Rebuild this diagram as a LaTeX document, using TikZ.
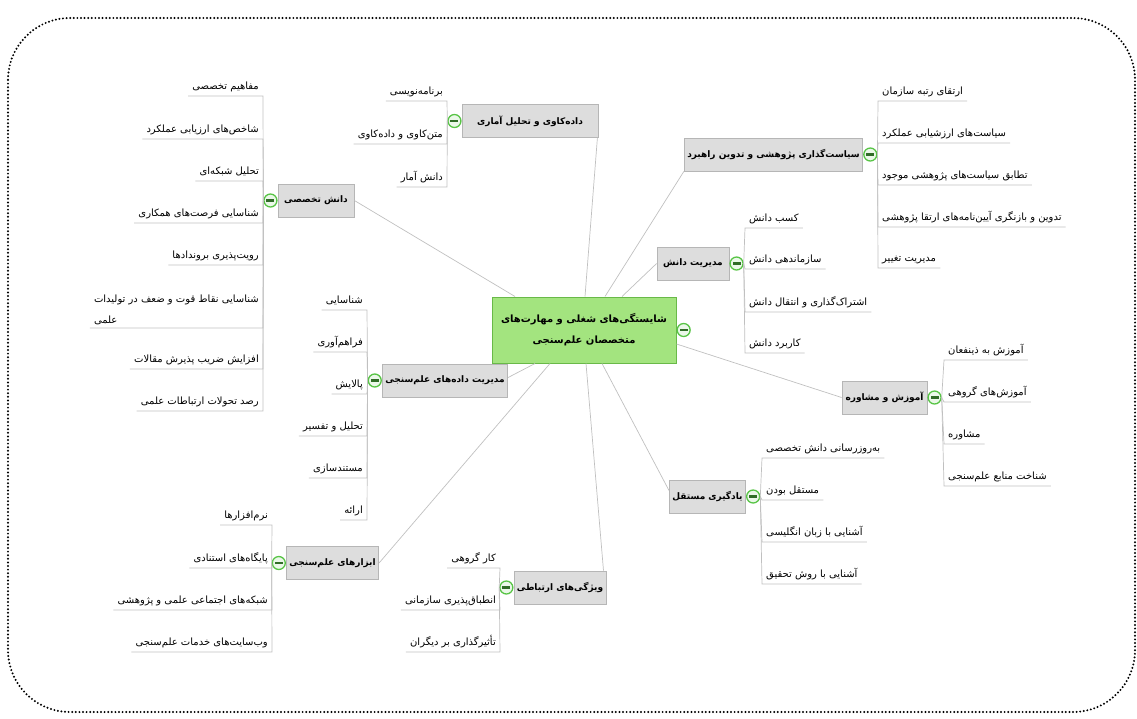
\documentclass[tikz,border=0pt]{standalone}
\usepackage{fontspec}
\usetikzlibrary{positioning}
\TeXXeTstate=1
\newfontfamily\farsifont[Script=Arabic]{DejaVu Sans}
\newcommand{\fatext}[1]{{\farsifont\beginR #1\endR}}
\definecolor{centerfill}{RGB}{163,228,127}
\definecolor{centeredge}{RGB}{105,185,72}
\definecolor{topicfill}{RGB}{221,221,221}
\definecolor{topicedge}{RGB}{182,182,182}
\definecolor{linkgray}{RGB}{192,192,192}
\definecolor{ctrlgreen}{RGB}{88,196,70}

\begin{document}
\begin{tikzpicture}[x=1pt, y=-1pt,
    central/.style={rectangle, draw=centeredge, fill=centerfill, line width=1pt, minimum width=184pt, minimum height=66pt, align=center, font=\fontsize{10}{12}\selectfont\bfseries},
    topic/.style={rectangle, draw=topicedge, fill=topicfill, line width=0.8pt, minimum height=33pt, inner xsep=3pt, font=\fontsize{9}{11}\selectfont\bfseries},
    leaf/.style={inner xsep=4pt, inner ysep=3pt, text height=8.5pt, text depth=3pt, font=\fontsize{10}{12}\selectfont},
    leafL/.style={leaf, anchor=south east},
    leafR/.style={leaf, anchor=south west},
    link/.style={draw=linkgray, line width=0.7pt},
    ctrl/.style={circle, draw=ctrlgreen, fill=ctrlgreen!12, line width=1.3pt, minimum size=13pt, inner sep=0pt,
        path picture={\fill[ctrlgreen!55!black] ([xshift=-4pt,yshift=-1.1pt]path picture bounding box.center) rectangle ([xshift=4pt,yshift=1.1pt]path picture bounding box.center);}}
]
\useasboundingbox (0,0) rectangle (1137,718);

% Frame
\draw[line width=2.2pt, line cap=round, dash pattern=on 0pt off 3.6pt, rounded corners=62pt] (8,18) rectangle (1135,712);

% Central topic
\node[central] (core) at (584,330) {\fatext{شایستگی‌های شغلی و مهارت‌های}\\[9pt]\fatext{متخصصان علم‌سنجی}};
\node[ctrl, right=0pt of core] (ccore) {};

% Main topics
\node[topic, minimum width=136pt] (mining) at (530,121) {\fatext{داده‌کاوی و تحلیل آماری}};
\node[ctrl, left=0pt of mining] (cmining) {};
\node[topic, minimum width=177pt] (policy) at (773.5,154.5) {\fatext{سیاست‌گذاری پژوهشی و تدوین راهبرد}};
\node[ctrl, right=0pt of policy] (cpolicy) {};
\node[topic, minimum width=72pt] (km) at (693,263.5) {\fatext{مدیریت دانش}};
\node[ctrl, right=0pt of km] (ckm) {};
\node[topic, minimum width=85pt] (train) at (884.5,397.5) {\fatext{آموزش و مشاوره}};
\node[ctrl, right=0pt of train] (ctrain) {};
\node[topic, minimum width=75pt] (selflearn) at (707.5,496.5) {\fatext{یادگیری مستقل}};
\node[ctrl, right=0pt of selflearn] (cself) {};
\node[topic, minimum width=92pt] (comm) at (560,587.5) {\fatext{ویژگی‌های ارتباطی}};
\node[ctrl, left=0pt of comm] (ccomm) {};
\node[topic, minimum width=91pt] (tools) at (332.5,563) {\fatext{ابزارهای علم‌سنجی}};
\node[ctrl, left=0pt of tools] (ctools) {};
\node[topic, minimum width=124pt] (data) at (445,380.5) {\fatext{مدیریت داده‌های علم‌سنجی}};
\node[ctrl, left=0pt of data] (cdata) {};
\node[topic, minimum width=76pt] (expert) at (316,200.5) {\fatext{دانش تخصصی}};
\node[ctrl, left=0pt of expert] (cexpert) {};

% Central links
\draw[link] ([xshift=-69pt]core.north) -- (expert.east);
\draw[link] ([xshift=1pt]core.north) -- ([xshift=-1pt]mining.south east);
\draw[link] ([xshift=21pt]core.north) -- (policy.south west);
\draw[link] ([xshift=38pt]core.north) -- (km.west);
\draw[link] ([yshift=-14pt]core.east) -- (train.west);
\draw[link] ([xshift=18pt]core.south) -- ([yshift=6pt]selflearn.west);
\draw[link] ([xshift=2pt]core.south) -- ([xshift=-3pt]comm.north east);
\draw[link] ([xshift=-34pt]core.south) -- (tools.east);
\draw[link] ([xshift=-49pt]core.south) -- ([yshift=3pt]data.east);

% Expert knowledge
\node[leafL] (e1) at (263,96) {\fatext{مفاهیم تخصصی}};
\node[leafL] (e2) at (263,139) {\fatext{شاخص‌های ارزیابی عملکرد}};
\node[leafL] (e3) at (263,181) {\fatext{تحلیل شبکه‌ای}};
\node[leafL] (e4) at (263,223) {\fatext{شناسایی فرصت‌های همکاری}};
\node[leafL] (e5) at (263,265) {\fatext{رویت‌پذیری بروندادها}};
\node[inner xsep=4pt, inner ysep=3pt, anchor=south east, align=left, font=\fontsize{10}{12}\selectfont] (e6) at (263,328) {\fatext{شناسایی نقاط قوت و ضعف در تولیدات}\\[9pt]\fatext{علمی}};
\node[leafL] (e7) at (263,369) {\fatext{افزایش ضریب پذیرش مقالات}};
\node[leafL] (e8) at (263,411) {\fatext{رصد تحولات ارتباطات علمی}};
\draw[link] (cexpert.west) -- (e1.south east) -- (e1.south west);
\draw[link] (cexpert.west) -- (e2.south east) -- (e2.south west);
\draw[link] (cexpert.west) -- (e3.south east) -- (e3.south west);
\draw[link] (cexpert.west) -- (e4.south east) -- (e4.south west);
\draw[link] (cexpert.west) -- (e5.south east) -- (e5.south west);
\draw[link] (cexpert.west) -- (e6.south east) -- (e6.south west);
\draw[link] (cexpert.west) -- (e7.south east) -- (e7.south west);
\draw[link] (cexpert.west) -- (e8.south east) -- (e8.south west);

% Data mining
\node[leafL] (m1) at (447,101) {\fatext{برنامه‌نویسی}};
\node[leafL] (m2) at (447,144) {\fatext{متن‌کاوی و داده‌کاوی}};
\node[leafL] (m3) at (447,187) {\fatext{دانش آمار}};
\draw[link] (cmining.west) -- (m1.south east) -- (m1.south west);
\draw[link] (cmining.west) -- (m2.south east) -- (m2.south west);
\draw[link] (cmining.west) -- (m3.south east) -- (m3.south west);

% Data management
\node[leafL] (d1) at (367,310) {\fatext{شناسایی}};
\node[leafL] (d2) at (367,352) {\fatext{فراهم‌آوری}};
\node[leafL] (d3) at (367,394) {\fatext{پالایش}};
\node[leafL] (d4) at (367,436) {\fatext{تحلیل و تفسیر}};
\node[leafL] (d5) at (367,478) {\fatext{مستندسازی}};
\node[leafL] (d6) at (367,520) {\fatext{ارائه}};
\draw[link] (cdata.west) -- (d1.south east) -- (d1.south west);
\draw[link] (cdata.west) -- (d2.south east) -- (d2.south west);
\draw[link] (cdata.west) -- (d3.south east) -- (d3.south west);
\draw[link] (cdata.west) -- (d4.south east) -- (d4.south west);
\draw[link] (cdata.west) -- (d5.south east) -- (d5.south west);
\draw[link] (cdata.west) -- (d6.south east) -- (d6.south west);

% Tools
\node[leafL] (o1) at (272,525) {\fatext{نرم‌افزارها}};
\node[leafL] (o2) at (272,568) {\fatext{پایگاه‌های استنادی}};
\node[leafL] (o3) at (272,610) {\fatext{شبکه‌های اجتماعی علمی و پژوهشی}};
\node[leafL] (o4) at (272,652) {\fatext{وب‌سایت‌های خدمات علم‌سنجی}};
\draw[link] (ctools.west) -- (o1.south east) -- (o1.south west);
\draw[link] (ctools.west) -- (o2.south east) -- (o2.south west);
\draw[link] (ctools.west) -- (o3.south east) -- (o3.south west);
\draw[link] (ctools.west) -- (o4.south east) -- (o4.south west);

% Communication
\node[leafL] (r1) at (500,568) {\fatext{کار گروهی}};
\node[leafL] (r2) at (500,610) {\fatext{انطباق‌پذیری سازمانی}};
\node[leafL] (r3) at (500,652) {\fatext{تأثیرگذاری بر دیگران}};
\draw[link] (ccomm.west) -- (r1.south east) -- (r1.south west);
\draw[link] (ccomm.west) -- (r2.south east) -- (r2.south west);
\draw[link] (ccomm.west) -- (r3.south east) -- (r3.south west);

% Research policy
\node[leafR] (p1) at (878,101) {\fatext{ارتقای رتبه سازمان}};
\node[leafR] (p2) at (878,143) {\fatext{سیاست‌های ارزشیابی عملکرد}};
\node[leafR] (p3) at (878,185) {\fatext{تطابق سیاست‌های پژوهشی موجود}};
\node[leafR] (p4) at (878,227) {\fatext{تدوین و بازنگری آیین‌نامه‌های ارتقا پژوهشی}};
\node[leafR] (p5) at (878,268) {\fatext{مدیریت تغییر}};
\draw[link] (cpolicy.east) -- (p1.south west) -- (p1.south east);
\draw[link] (cpolicy.east) -- (p2.south west) -- (p2.south east);
\draw[link] (cpolicy.east) -- (p3.south west) -- (p3.south east);
\draw[link] (cpolicy.east) -- (p4.south west) -- (p4.south east);
\draw[link] (cpolicy.east) -- (p5.south west) -- (p5.south east);

% Knowledge management
\node[leafR] (k1) at (745,228) {\fatext{کسب دانش}};
\node[leafR] (k2) at (745,269) {\fatext{سازماندهی دانش}};
\node[leafR] (k3) at (745,312) {\fatext{اشتراک‌گذاری و انتقال دانش}};
\node[leafR] (k4) at (745,353) {\fatext{کاربرد دانش}};
\draw[link] (ckm.east) -- (k1.south west) -- (k1.south east);
\draw[link] (ckm.east) -- (k2.south west) -- (k2.south east);
\draw[link] (ckm.east) -- (k3.south west) -- (k3.south east);
\draw[link] (ckm.east) -- (k4.south west) -- (k4.south east);

% Training and consulting
\node[leafR] (a1) at (944,360) {\fatext{آموزش به ذینفعان}};
\node[leafR] (a2) at (944,402) {\fatext{آموزش‌های گروهی}};
\node[leafR] (a3) at (944,444) {\fatext{مشاوره}};
\node[leafR] (a4) at (944,486) {\fatext{شناخت منابع علم‌سنجی}};
\draw[link] (ctrain.east) -- (a1.south west) -- (a1.south east);
\draw[link] (ctrain.east) -- (a2.south west) -- (a2.south east);
\draw[link] (ctrain.east) -- (a3.south west) -- (a3.south east);
\draw[link] (ctrain.east) -- (a4.south west) -- (a4.south east);

% Self-directed learning
\node[leafR] (s1) at (762,458) {\fatext{به‌روزرسانی دانش تخصصی}};
\node[leafR] (s2) at (762,500) {\fatext{مستقل بودن}};
\node[leafR] (s3) at (762,542) {\fatext{آشنایی با زبان انگلیسی}};
\node[leafR] (s4) at (762,584) {\fatext{آشنایی با روش تحقیق}};
\draw[link] (cself.east) -- (s1.south west) -- (s1.south east);
\draw[link] (cself.east) -- (s2.south west) -- (s2.south east);
\draw[link] (cself.east) -- (s3.south west) -- (s3.south east);
\draw[link] (cself.east) -- (s4.south west) -- (s4.south east);

\end{tikzpicture}
\end{document}
